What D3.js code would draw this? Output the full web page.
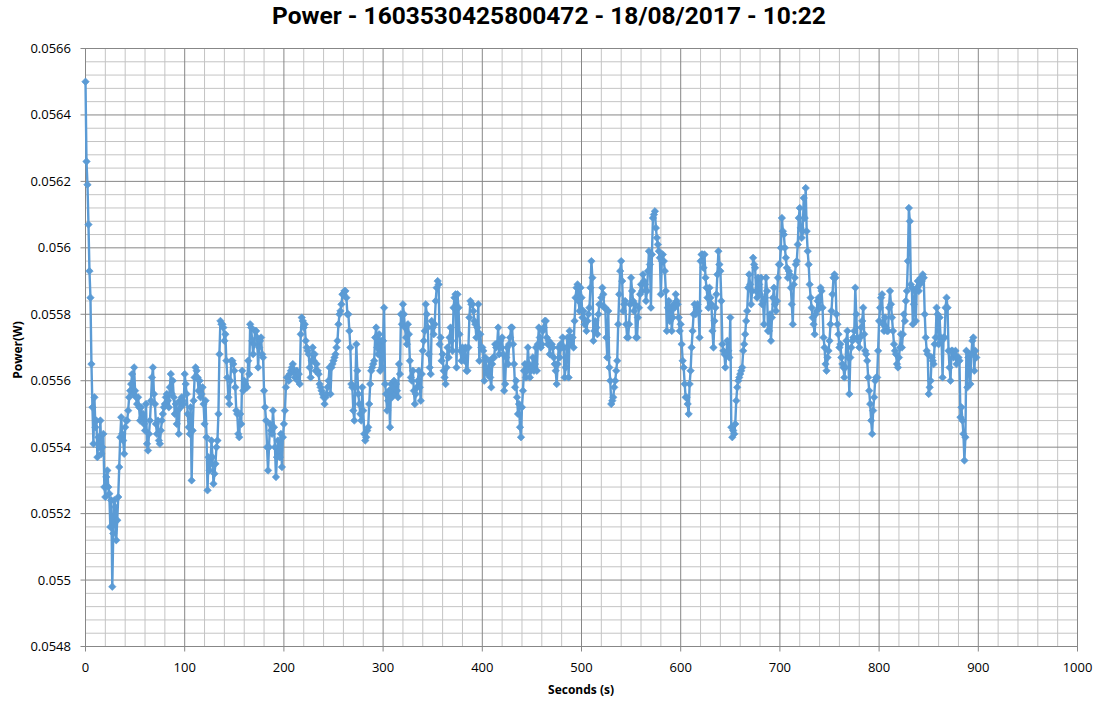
<!DOCTYPE html>
<html><head><meta charset="utf-8">
<script src="https://cdn.jsdelivr.net/npm/d3@7"></script>
<style>body{margin:0;background:#fff}svg{display:block}</style>
</head><body>
<svg id="chart" width="1099" height="703"></svg>
<script>
const chartTitle = "Power - 1603530425800472 - 18/08/2017 - 10:22";
const xAxisTitle = "Seconds (s)";
const yAxisTitle = "Power(W)";
const xTickValues = [0, 100, 200, 300, 400, 500, 600, 700, 800, 900, 1000];
const yTickValues = [0.0548, 0.055, 0.0552, 0.0554, 0.0556, 0.0558, 0.056, 0.0562, 0.0564, 0.0566];
const yTickLabels = ["0.0548", "0.055", "0.0552", "0.0554", "0.0556", "0.0558", "0.056", "0.0562", "0.0564", "0.0566"];
const sampleStepSeconds = 1;
const powerW = [
0.05650,0.05626,0.05619,0.05607,0.05593,0.05585,0.05565,0.05552,0.05541,0.05555,
0.05546,0.05548,0.05537,0.05543,0.05540,0.05548,0.05538,0.05540,0.05544,0.05528,
0.05525,0.05531,0.05533,0.05528,0.05526,0.05516,0.05524,0.05498,0.05514,0.05524,
0.05522,0.05512,0.05518,0.05525,0.05534,0.05543,0.05549,0.05544,0.05542,0.05538,
0.05546,0.05548,0.05548,0.05551,0.05555,0.05557,0.05559,0.05562,0.05556,0.05564,
0.05557,0.05555,0.05553,0.05555,0.05552,0.05548,0.05552,0.05549,0.05550,0.05547,
0.05545,0.05553,0.05541,0.05539,0.05544,0.05548,0.05554,0.05561,0.05564,0.05556,
0.05553,0.05547,0.05544,0.05548,0.05542,0.05541,0.05545,0.05548,0.05550,0.05552,
0.05553,0.05555,0.05556,0.05554,0.05552,0.05558,0.05562,0.05556,0.05560,0.05555,
0.05550,0.05553,0.05547,0.05551,0.05544,0.05554,0.05552,0.05555,0.05554,0.05553,
0.05562,0.05559,0.05556,0.05550,0.05546,0.05544,0.05552,0.05530,0.05545,0.05554,
0.05561,0.05564,0.05563,0.05561,0.05557,0.05560,0.05555,0.05556,0.05558,0.05553,
0.05547,0.05554,0.05543,0.05527,0.05537,0.05533,0.05535,0.05542,0.05537,0.05529,
0.05532,0.05535,0.05540,0.05542,0.05550,0.05568,0.05578,0.05577,0.05577,0.05576,
0.05572,0.05574,0.05566,0.05561,0.05555,0.05553,0.05560,0.05566,0.05566,0.05565,
0.05563,0.05558,0.05551,0.05550,0.05544,0.05543,0.05550,0.05547,0.05563,0.05557,
0.05560,0.05559,0.05558,0.05558,0.05566,0.05562,0.05577,0.05576,0.05572,0.05568,
0.05571,0.05575,0.05575,0.05573,0.05564,0.05570,0.05572,0.05573,0.05568,0.05567,
0.05557,0.05552,0.05548,0.05540,0.05533,0.05540,0.05547,0.05545,0.05544,0.05551,
0.05546,0.05540,0.05531,0.05537,0.05542,0.05539,0.05537,0.05544,0.05534,0.05543,
0.05547,0.05551,0.05558,0.05561,0.05561,0.05560,0.05562,0.05563,0.05564,0.05565,
0.05563,0.05561,0.05562,0.05563,0.05560,0.05562,0.05559,0.05574,0.05579,0.05578,
0.05576,0.05577,0.05572,0.05570,0.05569,0.05568,0.05564,0.05561,0.05566,0.05570,
0.05566,0.05568,0.05563,0.05565,0.05563,0.05562,0.05559,0.05558,0.05557,0.05556,
0.05555,0.05553,0.05555,0.05556,0.05558,0.05560,0.05564,0.05556,0.05564,0.05565,
0.05566,0.05567,0.05568,0.05570,0.05572,0.05577,0.05580,0.05581,0.05583,0.05586,
0.05586,0.05587,0.05587,0.05585,0.05580,0.05580,0.05575,0.05570,0.05559,0.05558,
0.05551,0.05548,0.05558,0.05571,0.05563,0.05556,0.05553,0.05550,0.05548,0.05558,
0.05551,0.05544,0.05542,0.05543,0.05545,0.05546,0.05553,0.05559,0.05563,0.05564,
0.05565,0.05566,0.05573,0.05576,0.05570,0.05568,0.05574,0.05563,0.05572,0.05564,
0.05572,0.05582,0.05559,0.05556,0.05551,0.05554,0.05557,0.05546,0.05559,0.05555,
0.05558,0.05560,0.05556,0.05559,0.05557,0.05555,0.05565,0.05562,0.05580,0.05577,
0.05583,0.05580,0.05576,0.05573,0.05571,0.05577,0.05574,0.05566,0.05561,0.05560,
0.05563,0.05557,0.05553,0.05556,0.05558,0.05560,0.05563,0.05558,0.05554,0.05562,
0.05569,0.05572,0.05575,0.05583,0.05580,0.05576,0.05568,0.05564,0.05562,0.05578,
0.05576,0.05574,0.05577,0.05584,0.05588,0.05590,0.05589,0.05571,0.05573,0.05566,
0.05568,0.05563,0.05561,0.05559,0.05564,0.05570,0.05567,0.05573,0.05576,0.05572,
0.05569,0.05582,0.05585,0.05586,0.05564,0.05586,0.05582,0.05574,0.05569,0.05566,
0.05570,0.05569,0.05566,0.05570,0.05563,0.05563,0.05570,0.05579,0.05584,0.05583,
0.05583,0.05581,0.05578,0.05577,0.05573,0.05576,0.05583,0.05566,0.05574,0.05570,
0.05570,0.05569,0.05560,0.05567,0.05564,0.05562,0.05563,0.05566,0.05561,0.05558,
0.05565,0.05567,0.05567,0.05571,0.05570,0.05571,0.05576,0.05568,0.05572,0.05570,
0.05573,0.05568,0.05557,0.05559,0.05567,0.05570,0.05565,0.05571,0.05573,0.05576,
0.05576,0.05571,0.05565,0.05558,0.05560,0.05555,0.05550,0.05553,0.05546,0.05543,
0.05552,0.05557,0.05563,0.05565,0.05561,0.05563,0.05570,0.05565,0.05561,0.05563,
0.05564,0.05567,0.05563,0.05565,0.05570,0.05563,0.05571,0.05576,0.05573,0.05570,
0.05571,0.05575,0.05576,0.05578,0.05578,0.05573,0.05571,0.05572,0.05568,0.05571,
0.05571,0.05570,0.05567,0.05565,0.05563,0.05559,0.05565,0.05570,0.05567,0.05571,
0.05570,0.05573,0.05570,0.05561,0.05564,0.05570,0.05573,0.05561,0.05575,0.05571,
0.05573,0.05573,0.05570,0.05578,0.05585,0.05588,0.05589,0.05584,0.05581,0.05588,
0.05585,0.05579,0.05581,0.05577,0.05578,0.05575,0.05578,0.05580,0.05582,0.05588,
0.05596,0.05591,0.05572,0.05575,0.05578,0.05576,0.05574,0.05580,0.05583,0.05583,
0.05585,0.05588,0.05586,0.05582,0.05582,0.05573,0.05567,0.05581,0.05564,0.05560,
0.05553,0.05554,0.05555,0.05558,0.05560,0.05563,0.05566,0.05577,0.05586,0.05593,
0.05596,0.05590,0.05581,0.05583,0.05584,0.05577,0.05573,0.05573,0.05577,0.05583,
0.05591,0.05587,0.05584,0.05581,0.05583,0.05573,0.05573,0.05579,0.05582,0.05586,
0.05589,0.05587,0.05592,0.05590,0.05589,0.05584,0.05587,0.05593,0.05599,0.05595,
0.05582,0.05598,0.05609,0.05610,0.05611,0.05606,0.05603,0.05601,0.05599,0.05597,
0.05586,0.05596,0.05598,0.05596,0.05593,0.05587,0.05575,0.05582,0.05584,0.05578,
0.05582,0.05575,0.05579,0.05583,0.05582,0.05586,0.05584,0.05583,0.05579,0.05575,
0.05577,0.05571,0.05566,0.05564,0.05559,0.05555,0.05555,0.05553,0.05550,0.05559,
0.05563,0.05570,0.05575,0.05580,0.05583,0.05580,0.05582,0.05583,0.05581,0.05573,
0.05596,0.05598,0.05598,0.05594,0.05598,0.05591,0.05588,0.05585,0.05582,0.05588,
0.05585,0.05583,0.05575,0.05570,0.05578,0.05582,0.05586,0.05592,0.05599,0.05595,
0.05593,0.05584,0.05571,0.05569,0.05568,0.05564,0.05568,0.05572,0.05569,0.05567,
0.05579,0.05546,0.05543,0.05545,0.05544,0.05547,0.05554,0.05558,0.05560,0.05561,
0.05562,0.05563,0.05564,0.05569,0.05571,0.05574,0.05578,0.05581,0.05588,0.05592,
0.05589,0.05583,0.05587,0.05597,0.05595,0.05594,0.05587,0.05585,0.05591,0.05589,
0.05586,0.05591,0.05583,0.05584,0.05577,0.05585,0.05591,0.05587,0.05575,0.05575,
0.05580,0.05572,0.05579,0.05585,0.05588,0.05583,0.05581,0.05584,0.05591,0.05595,
0.05595,0.05600,0.05609,0.05605,0.05604,0.05600,0.05597,0.05594,0.05591,0.05593,
0.05592,0.05588,0.05583,0.05577,0.05589,0.05591,0.05595,0.05596,0.05601,0.05609,
0.05612,0.05606,0.05603,0.05605,0.05615,0.05609,0.05618,0.05605,0.05599,0.05595,
0.05589,0.05585,0.05582,0.05579,0.05577,0.05574,0.05580,0.05581,0.05584,0.05585,
0.05582,0.05588,0.05587,0.05582,0.05573,0.05570,0.05565,0.05563,0.05567,0.05569,
0.05572,0.05577,0.05581,0.05586,0.05591,0.05592,0.05591,0.05580,0.05577,0.05574,
0.05570,0.05571,0.05567,0.05565,0.05564,0.05561,0.05564,0.05572,0.05575,0.05567,
0.05556,0.05567,0.05570,0.05572,0.05573,0.05575,0.05588,0.05580,0.05573,0.05572,
0.05570,0.05573,0.05576,0.05578,0.05582,0.05574,0.05569,0.05568,0.05566,0.05561,
0.05557,0.05553,0.05548,0.05544,0.05551,0.05555,0.05560,0.05561,0.05561,0.05569,
0.05578,0.05582,0.05585,0.05586,0.05577,0.05575,0.05579,0.05576,0.05575,0.05575,
0.05582,0.05587,0.05583,0.05579,0.05575,0.05571,0.05569,0.05568,0.05565,0.05564,
0.05567,0.05570,0.05574,0.05570,0.05574,0.05580,0.05578,0.05584,0.05587,0.05596,
0.05612,0.05608,0.05589,0.05588,0.05577,0.05583,0.05587,0.05578,0.05588,0.05590,
0.05587,0.05589,0.05591,0.05590,0.05592,0.05591,0.05580,0.05573,0.05569,0.05568,
0.05556,0.05558,0.05560,0.05567,0.05566,0.05565,0.05571,0.05573,0.05582,0.05580,
0.05571,0.05579,0.05573,0.05572,0.05561,0.05573,0.05573,0.05582,0.05585,0.05582,
0.05569,0.05564,0.05560,0.05569,0.05569,0.05567,0.05568,0.05569,0.05565,0.05567,
0.05567,0.05566,0.05549,0.05552,0.05548,0.05544,0.05536,0.05543,0.05569,0.05558,
0.05567,0.05568,0.05559,0.05568,0.05572,0.05573,0.05563,0.05569,0.05567
];
const seconds = powerW.map((_, i) => i * sampleStepSeconds);
const points = powerW.map((v, i) => ({ t: seconds[i], v }));

const svg = d3.select("#chart");
const margin = { left: 85.5, right: 1077.5, top: 48.5, bottom: 646.5 };
const x = d3.scaleLinear().domain([0, 1000]).range([margin.left, margin.right]);
const y = d3.scaleLinear().domain([0.0548, 0.0566]).range([margin.bottom, margin.top]);

const seriesColor = "#5B9BD5";
const majorGrid = "#878787";
const minorGrid = "#c4c4c4";
const labelFont = "'Open Sans', 'Liberation Sans', sans-serif";
const titleFont = "Roboto, 'Open Sans', sans-serif";

// minor grid
const gMinor = svg.append("g");
gMinor.selectAll("line.vx").data(d3.range(0, 1001, 20).filter(d => d % 100 !== 0)).join("line")
  .attr("x1", d => x(d)).attr("x2", d => x(d)).attr("y1", margin.top).attr("y2", margin.bottom)
  .attr("stroke", minorGrid).attr("stroke-width", 1);
const yMinor = d3.range(0, 46).map(i => 0.0548 + i * 0.00004).filter((d, i) => i % 5 !== 0);
gMinor.selectAll("line.hy").data(yMinor).join("line")
  .attr("x1", margin.left).attr("x2", margin.right).attr("y1", d => y(d)).attr("y2", d => y(d))
  .attr("stroke", minorGrid).attr("stroke-width", 1);

// major grid
const gMajor = svg.append("g");
gMajor.selectAll("line.vx").data(xTickValues).join("line")
  .attr("x1", d => x(d)).attr("x2", d => x(d)).attr("y1", margin.top).attr("y2", margin.bottom + 5)
  .attr("stroke", majorGrid).attr("stroke-width", 1);
gMajor.selectAll("line.hy").data(yTickValues).join("line")
  .attr("x1", margin.left - 5).attr("x2", margin.right).attr("y1", d => y(d)).attr("y2", d => y(d))
  .attr("stroke", majorGrid).attr("stroke-width", 1);

// tick labels
svg.append("g").selectAll("text").data(yTickValues).join("text")
  .attr("x", 71).attr("y", d => y(d)).attr("dy", "0.35em")
  .attr("text-anchor", "end").attr("font-family", labelFont).attr("font-size", 13).attr("fill", "#000")
  .text((d, i) => yTickLabels[i]);
svg.append("g").selectAll("text").data(xTickValues).join("text")
  .attr("x", d => x(d)).attr("y", 667).attr("dy", "0.35em")
  .attr("text-anchor", "middle").attr("font-family", labelFont).attr("font-size", 13).attr("fill", "#000")
  .text(d => d);

// series
const line = d3.line().x(d => x(d.t)).y(d => y(d.v));
svg.append("path").datum(points).attr("d", line).attr("fill", "none")
  .attr("stroke", seriesColor).attr("stroke-width", 2.4).attr("stroke-linejoin", "round");
const marker = d3.symbol().type(d3.symbolSquare).size(28);
svg.append("g").selectAll("path").data(points).join("path")
  .attr("d", marker)
  .attr("transform", d => `translate(${x(d.t)},${y(d.v)}) rotate(45)`)
  .attr("fill", seriesColor).attr("stroke", seriesColor).attr("stroke-width", 0.6);

// titles
const title = svg.append("text").attr("x", 549).attr("y", 23.5)
  .attr("text-anchor", "middle").attr("font-family", titleFont).attr("font-weight", "bold")
  .attr("font-size", 22).attr("fill", "#000").text(chartTitle);
const tw = title.node().getComputedTextLength();
title.attr("font-size", Math.min(24.5, 22 * 558 / tw));

svg.append("text").attr("x", 581).attr("y", 690).attr("dy", "0.35em")
  .attr("text-anchor", "middle").attr("font-family", labelFont).attr("font-weight", "bold")
  .attr("font-size", 12).attr("fill", "#000").text(xAxisTitle);
svg.append("text").attr("transform", "translate(18,350) rotate(-90)").attr("dy", "0.35em")
  .attr("text-anchor", "middle").attr("font-family", labelFont).attr("font-weight", "bold")
  .attr("font-size", 12).attr("fill", "#000").text(yAxisTitle);
</script>
</body></html>
